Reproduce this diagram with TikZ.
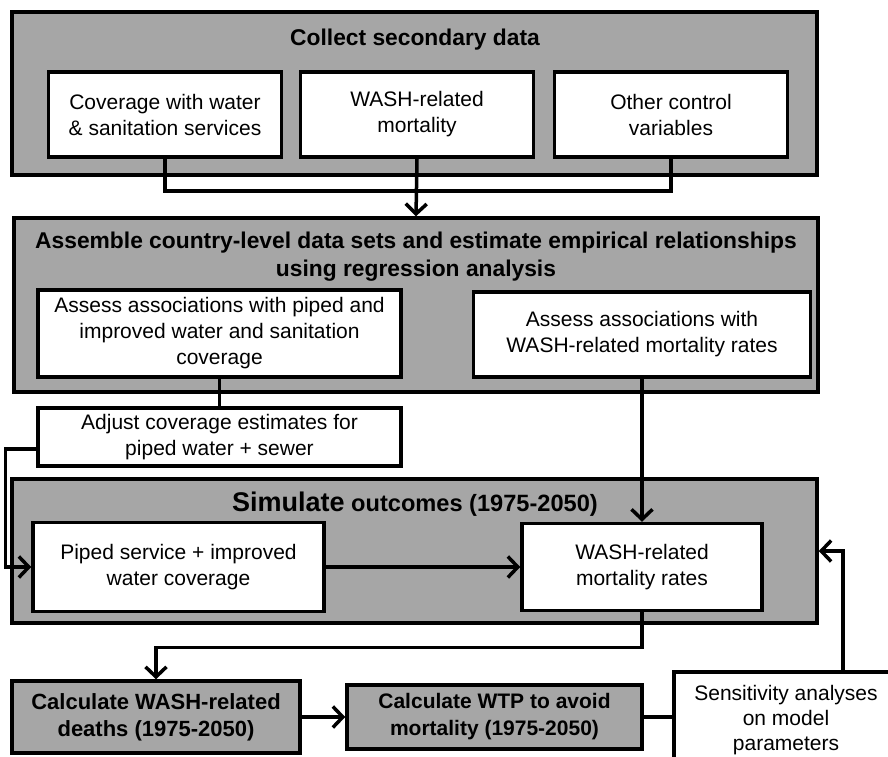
\documentclass[tikz,border=0pt]{standalone}
\usepackage{fontspec}
\setmainfont{Liberation Sans}
\usepackage{tikz}
\usetikzlibrary{arrows.meta}
\definecolor{boxgray}{HTML}{A6A6A6}

\begin{document}
\begin{tikzpicture}[x=1pt, y=-1pt, line width=3.5pt,
    bigbox/.style={draw, fill=boxgray},
    whitebox/.style={draw, fill=white, align=center, font=\fontsize{21}{26}\selectfont},
    calcbox/.style={draw, fill=boxgray, align=center, font=\bfseries\fontsize{21}{27}\selectfont},
    titletext/.style={align=center, font=\bfseries\fontsize{22.8}{28}\selectfont},
    arr/.style={-{Straight Barb[length=10pt,width=21pt]}}]
                \useasboundingbox (0,0) rectangle (888,756);
                \clip (0,0) rectangle (888,756);
                % collect secondary data
                \node[bigbox, minimum width=805pt, minimum height=163pt] (collect) at (414.5,93.5) {};
                \node[titletext] (collecttitle) at (415,40) {Collect secondary data};
                \node[whitebox, minimum width=233pt, minimum height=85pt] (coverage) at (165,114.5) {Coverage with water\\\& sanitation services};
                \node[whitebox, minimum width=233pt, minimum height=85pt] (washmort) at (417,114.5) {WASH-related\\mortality};
                \node[whitebox, minimum width=233pt, minimum height=85pt] (other) at (671,114.5) {Other control\\variables};
                % regression analysis
                \node[bigbox, minimum width=804pt, minimum height=174pt] (assemble) at (416,305) {};
                \node[titletext] (assembletitle) at (416,257) {Assemble country-level data sets and estimate empirical relationships\\using regression analysis};
                \node[whitebox, minimum width=363pt, minimum height=87pt] (assocpiped) at (219.5,333.5) {Assess associations with piped and\\improved water and sanitation\\coverage};
                \node[whitebox, minimum width=337pt, minimum height=85pt] (assocmort) at (642,334.5) {Assess associations with\\WASH-related mortality rates};
                \node[whitebox, minimum width=363pt, minimum height=58pt] (adjust) at (219.5,437) {Adjust coverage estimates for\\piped water + sewer};
                % simulation
                \node[bigbox, minimum width=805pt, minimum height=144pt] (simulate) at (414.5,551) {};
                \node[titletext, font=\bfseries\fontsize{23.6}{28}\selectfont] (simtitle) at (415,504) {{\fontsize{27}{30}\selectfont Simulate} outcomes (1975-2050)};
                \node[whitebox, minimum width=291pt, minimum height=89pt] (piped) at (178.5,567) {Piped service + improved\\water coverage};
                \node[whitebox, minimum width=240pt, minimum height=87pt] (rates) at (642,567) {WASH-related\\mortality rates};
                % final calculations
                \node[calcbox, font=\bfseries\fontsize{22}{27}\selectfont, minimum width=288pt, minimum height=72pt] (deaths) at (156,717) {Calculate WASH-related\\deaths (1975-2050)};
                \node[calcbox, minimum width=295pt, minimum height=64pt] (wtp) at (494.5,717) {Calculate WTP to avoid\\mortality (1975-2050)};
                \node[whitebox, font=\fontsize{21}{25}\selectfont, minimum width=224pt, minimum height=96pt] (sens) at (786,720) {Sensitivity analyses\\on model\\parameters};
                % connectors
                \draw (coverage.south) -- ++(0,32) -| (other.south);
                \draw[arr] (washmort.south) -- (assemble.north);
                \draw (assocpiped.south) -- (adjust.north);
                \draw[arr] ([yshift=-12pt]adjust.west) -- ++(-31,0) |- (piped.west);
                \draw[arr] (assocmort.south) -- (rates.north);
                \draw[arr] (piped.east) -- (rates.west);
                \draw[arr] (rates.south) -- ++(0,35) -| (deaths.north);
                \draw[arr] (deaths.east) -- (wtp.west);
                \draw (wtp.east) -- (wtp.east -| sens.west);
                \draw[arr] ([xshift=57pt]sens.north) |- (simulate.east);
            \end{tikzpicture}
\end{document}
